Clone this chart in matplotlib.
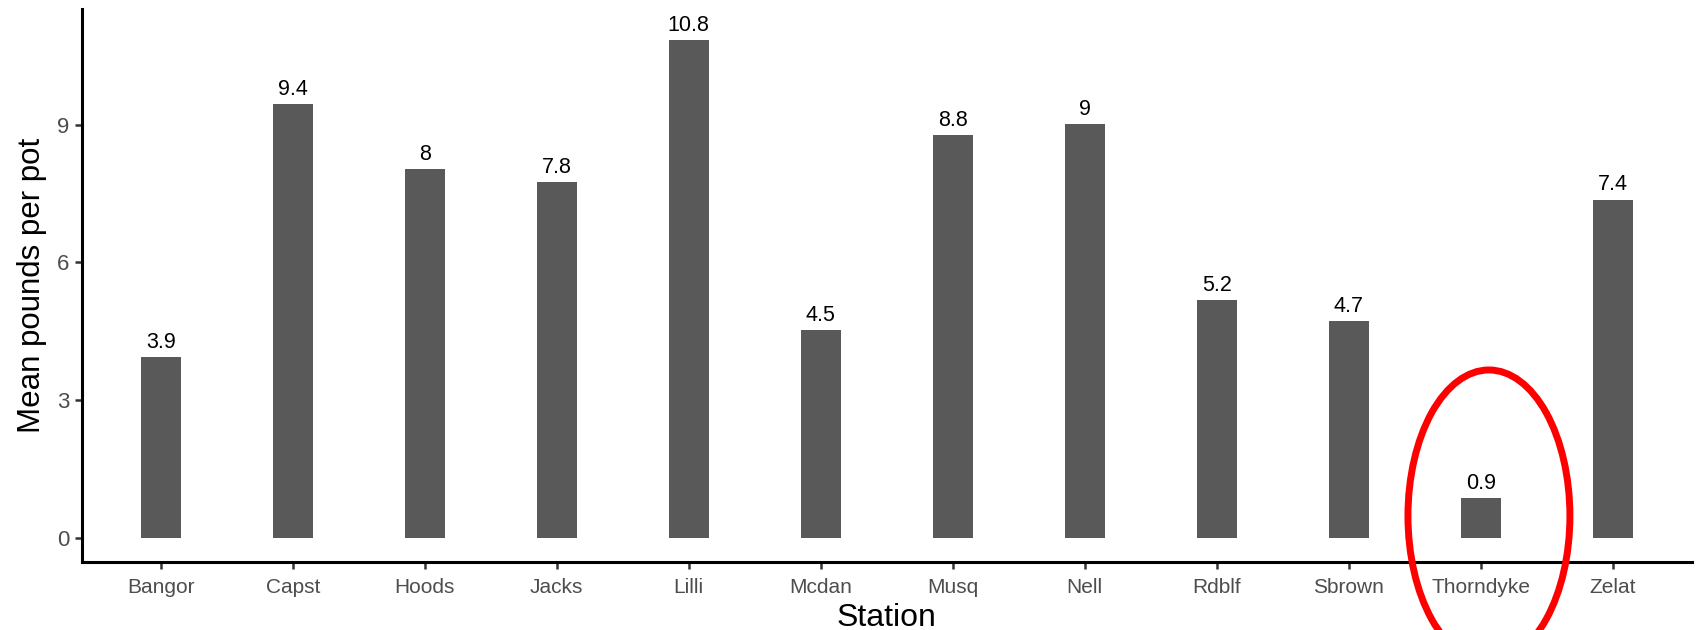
import matplotlib.pyplot as plt
import numpy as np
from matplotlib.patches import Ellipse

stations = ["Bangor", "Capst", "Hoods", "Jacks", "Lilli", "Mcdan",
            "Musq", "Nell", "Rdblf", "Sbrown", "Thorndyke", "Zelat"]
mean_lbs = [3.93, 9.45, 8.03, 7.76, 10.84, 4.53, 8.77, 9.02, 5.18, 4.72, 0.86, 7.37]
bar_labels = ["3.9", "9.4", "8", "7.8", "10.8", "4.5", "8.8", "9", "5.2", "4.7", "0.9", "7.4"]
yticks = [0, 3, 6, 9]

plt.rcParams['font.family'] = ['Liberation Sans', 'DejaVu Sans']

fig = plt.figure(figsize=(17.03, 6.3), dpi=100)
ax = fig.add_axes([0.0479, 0.1087, 0.9456, 0.8773])

x = np.arange(len(stations))
ax.bar(x, mean_lbs, width=0.3, color='#595959', linewidth=0)
for xi, v, lab in zip(x, mean_lbs, bar_labels):
    ax.annotate(lab, (xi, v), xytext=(0, 3), textcoords='offset points',
                ha='center', va='bottom', fontsize=15.5, color='black')

ax.set_xlim(-0.6, len(stations) - 1 + 0.6)
ax.set_ylim(-0.52, 11.53)
ax.set_xticks(x)
ax.set_xticklabels(stations, fontsize=15, color='#4d4d4d')
ax.set_yticks(yticks)
ax.set_yticklabels([str(t) for t in yticks], fontsize=16, color='#4d4d4d')
ax.tick_params(axis='both', length=5, width=1.8, color='#333333')
ax.tick_params(axis='x', pad=7)
ax.tick_params(axis='y', pad=4)

for s in ['top', 'right']:
    ax.spines[s].set_visible(False)
for s in ['left', 'bottom']:
    ax.spines[s].set_linewidth(2.2)
    ax.spines[s].set_color('black')

ax.set_xlabel('Station', fontsize=23, labelpad=4)
ax.set_ylabel('Mean pounds per pot', fontsize=22.5, labelpad=7)

# red circle highlighting Thorndyke
ell = Ellipse((0.8743, 0.181), 0.0951, 0.4635, transform=fig.transFigure,
              fill=False, edgecolor='#ff0000', linewidth=5, clip_on=False)
fig.add_artist(ell)

plt.savefig('out.png', dpi=100)
